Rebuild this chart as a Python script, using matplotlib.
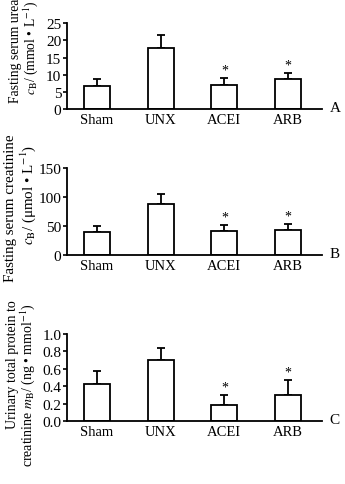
import numpy as np
import matplotlib
matplotlib.use('Agg')
import matplotlib.pyplot as plt

plt.rcParams['font.family'] = ['Liberation Serif', 'DejaVu Serif']
plt.rcParams['mathtext.fontset'] = 'stix'

groups = ['Sham', 'UNX', 'ACEI', 'ARB']

urea = [6.8, 17.7, 6.9, 8.8]
urea_err = [1.9, 3.8, 2.1, 1.7]
creat = [40, 88, 41, 44]
creat_err = [11, 17, 11, 9]
protein = [0.43, 0.70, 0.18, 0.30]
protein_err = [0.14, 0.14, 0.12, 0.17]
signif = [False, False, True, True]

panels = [
    dict(vals=urea, err=urea_err, ylim=(0, 25), ticks=[0, 5, 10, 15, 20, 25], fmt='{:g}',
         l1='Fasting serum urea', l2=r'$c_\mathrm{B}$/ (mmol • L$^{-1}$)', tag='A',
         pos=[0.194, 0.773, 0.739, 0.177], lx=(-0.20, -0.141), ly=(0.685, 0.72), fs=9.8),
    dict(vals=creat, err=creat_err, ylim=(0, 150), ticks=[0, 50, 100, 150], fmt='{:g}',
         l1='Fasting serum creatinine', l2=r'$c_\mathrm{B}$/ (μmol • L$^{-1}$)', tag='B',
         pos=[0.194, 0.472, 0.739, 0.179], lx=(-0.222, -0.153), ly=(0.55, 0.70), fs=10.8),
    dict(vals=protein, err=protein_err, ylim=(0, 1.0), ticks=[0, 0.2, 0.4, 0.6, 0.8, 1.0], fmt='{:.1f}',
         l1='Urinary total protein to', l2=r'creatinine $m_\mathrm{B}$/ (ng • mmol$^{-1}$)', tag='C',
         pos=[0.194, 0.130, 0.739, 0.179], lx=(-0.214, -0.153), ly=(0.655, 0.42), fs=10),
]

fig = plt.figure(figsize=(3.45, 4.85), dpi=100)
x = np.arange(len(groups))

for p in panels:
    ax = fig.add_axes(p['pos'])
    vals = np.array(p['vals'])
    err = np.array(p['err'])
    ax.bar(x, vals, width=0.41, color='white', edgecolor='black', linewidth=1.3, zorder=2)
    ax.errorbar(x, vals, yerr=[np.zeros_like(err), err], fmt='none', ecolor='black',
                elinewidth=1.3, capsize=3, capthick=1.3, zorder=1)
    top = p['ylim'][1]
    for i, s in enumerate(signif):
        if s:
            ax.text(x[i], vals[i] + err[i] + top * 0.02, '*', ha='center', va='bottom', fontsize=10)
    ax.set_xlim(-0.47, 3.53)
    ax.set_ylim(*p['ylim'])
    ax.set_yticks(p['ticks'])
    ax.set_yticklabels([p['fmt'].format(t) for t in p['ticks']], fontsize=11)
    ax.set_xticks(x)
    ax.set_xticklabels(groups, fontsize=10.5)
    ax.tick_params(axis='x', length=0, pad=3)
    ax.tick_params(axis='y', length=3, width=1.2, pad=1)
    ax.spines['top'].set_visible(False)
    ax.spines['right'].set_visible(False)
    ax.spines['left'].set_linewidth(1.3)
    ax.spines['bottom'].set_linewidth(1.3)
    ax.text(p['lx'][0], p['ly'][0], p['l1'], transform=ax.transAxes, rotation=90,
            ha='center', va='center', fontsize=p['fs'])
    ax.text(p['lx'][1], p['ly'][1], p['l2'], transform=ax.transAxes, rotation=90,
            ha='center', va='center', fontsize=p['fs'])
    ax.text(1.03, 0.02, p['tag'], transform=ax.transAxes, ha='left', va='center', fontsize=11)

fig.savefig('out.png', dpi=100)
